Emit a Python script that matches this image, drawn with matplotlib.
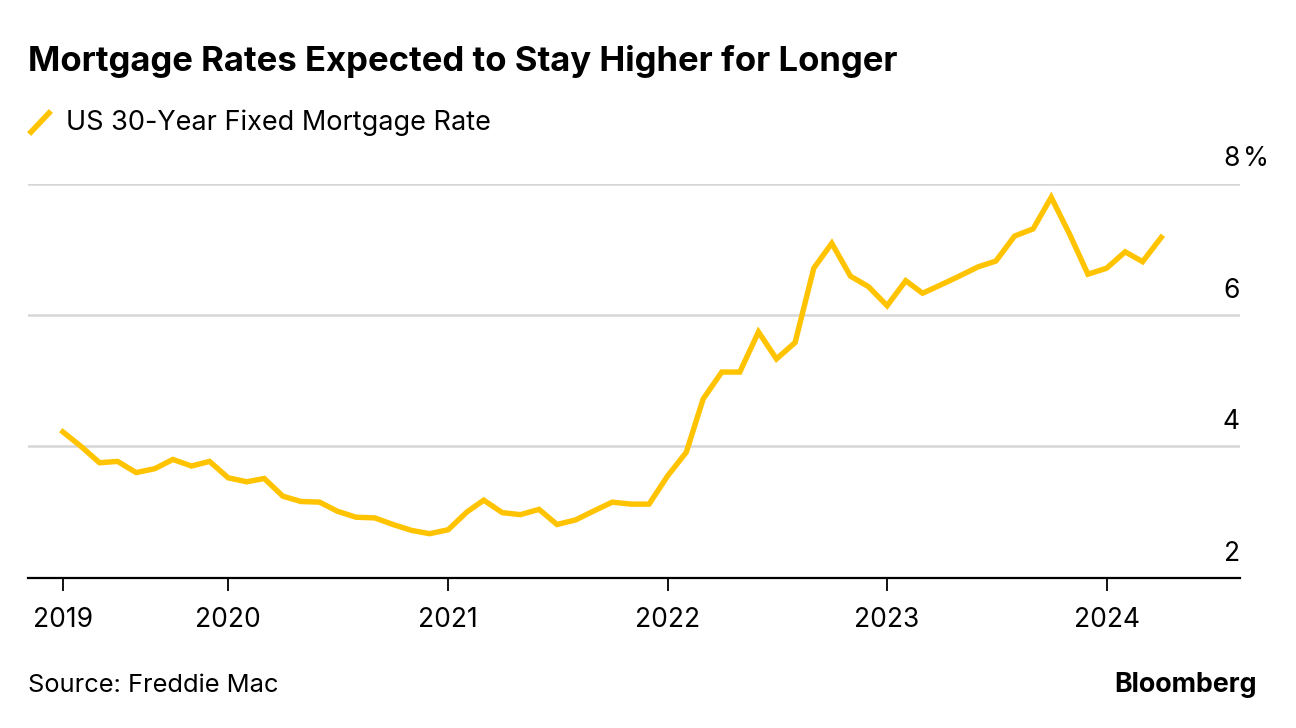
import numpy as np
import matplotlib
matplotlib.use("Agg")
import matplotlib.pyplot as plt
from matplotlib.lines import Line2D

plt.rcParams['font.family'] = ['Inter', 'DejaVu Sans']

# monthly 30-year fixed rate, Apr 2019 - Apr 2024
dates = np.arange('2019-04', '2024-05', dtype='datetime64[M]').astype('datetime64[D]')
rates = [
    4.22, 4.00, 3.75, 3.77, 3.60, 3.66, 3.80, 3.70, 3.77,          # 2019
    3.52, 3.46, 3.51, 3.24, 3.16, 3.15, 3.01, 2.92, 2.91, 2.81, 2.72, 2.67,  # 2020
    2.73, 3.00, 3.18, 2.99, 2.96, 3.04, 2.81, 2.88, 3.02, 3.15, 3.12, 3.12,  # 2021
    3.55, 3.91, 4.72, 5.13, 5.13, 5.74, 5.33, 5.58, 6.71, 7.09, 6.59, 6.43,  # 2022
    6.14, 6.52, 6.33, 6.46, 6.59, 6.73, 6.82, 7.20, 7.31, 7.79, 7.22, 6.62,  # 2023
    6.71, 6.96, 6.81, 7.18,                                          # 2024
]
tick_dates = np.array(['2019-04-01', '2020-01-01', '2021-01-01', '2022-01-01',
                       '2023-01-01', '2024-01-01'], dtype='datetime64[D]')
tick_labels = ['2019', '2020', '2021', '2022', '2023', '2024']
y_ticks = [2, 4, 6, 8]

yellow = '#FFC300'
grid = '#D6D6D6'

fig = plt.figure(figsize=(12.96, 7.28), dpi=100)
W, H = 1296, 728
ax = fig.add_axes([28 / W, 1 - 577.7 / H, (1240 - 28) / W, (577.7 - 183.5) / H])

ax.plot(dates, rates, color=yellow, lw=3.9, solid_joinstyle='miter', zorder=3)

ax.set_ylim(2, 8)
ax.set_xlim(np.datetime64('2019-02-02'), np.datetime64('2024-08-10'))

for v in y_ticks[1:]:
    ax.axhline(v, color=grid, lw=1.8, zorder=1)
for v in y_ticks:
    ax.annotate(str(v), (1.0, v), xycoords=ax.get_yaxis_transform(),
                xytext=(0, 8), textcoords='offset points',
                ha='right', va='bottom', fontsize=19, color='black')
ax.annotate('%', (1.0, 8), xycoords=ax.get_yaxis_transform(),
            xytext=(2, 8), textcoords='offset points',
            ha='left', va='bottom', fontsize=19, color='black')

for s in ['top', 'right', 'left']:
    ax.spines[s].set_visible(False)
ax.spines['bottom'].set_linewidth(1.6)
ax.spines['bottom'].set_zorder(4)
ax.set_yticks([])
ax.set_xticks(tick_dates)
ax.set_xticklabels(tick_labels)
ax.tick_params(axis='x', length=9, width=1.3, pad=12, labelsize=19)

fig.text(28 / W, 1 - 62 / H, 'Mortgage Rates Expected to Stay Higher for Longer',
         fontsize=25, fontweight='bold', va='center', ha='left')
fig.add_artist(Line2D([31 / W, 49 / W], [1 - 132 / H, 1 - 113 / H],
                      color=yellow, lw=4, transform=fig.transFigure))
fig.text(66 / W, 1 - 123 / H, 'US 30-Year Fixed Mortgage Rate',
         fontsize=19.5, va='center', ha='left')
fig.text(28 / W, 1 - 686 / H, 'Source: Freddie Mac', fontsize=18.3, va='center', ha='left')
fig.text(1257 / W, 1 - 685 / H, 'Bloomberg', fontsize=19.3, fontweight='bold',
         va='center', ha='right')

fig.savefig('out.png', dpi=100)
